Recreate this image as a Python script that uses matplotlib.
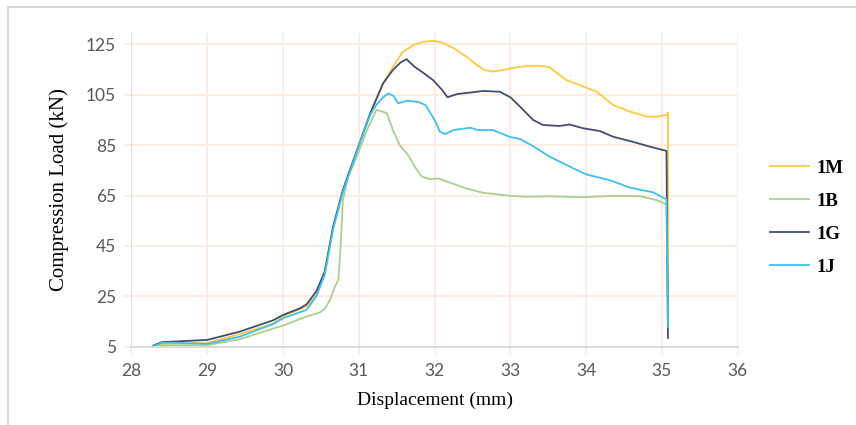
import matplotlib
matplotlib.use("Agg")
import matplotlib.pyplot as plt
from matplotlib.patches import Rectangle

# displacement (mm) / load (kN)
x_1m = [28.29, 28.4, 28.53, 29.0, 29.43, 29.87, 30.0, 30.31, 30.44, 30.55, 30.66, 30.79,
        30.93, 31.0, 31.15, 31.32, 31.45, 31.58, 31.72, 31.85, 31.98, 32.1, 32.25, 32.42,
        32.55, 32.66, 32.77, 32.9, 33.08, 33.25, 33.39, 33.52, 33.62, 33.74, 33.92, 34.14,
        34.25, 34.36, 34.58, 34.8, 34.93, 35.06, 35.08, 35.08]
y_1m = [5.4, 6.0, 6.3, 6.5, 10.0, 14.2, 17.0, 21.0, 25.5, 34.0, 52.0, 67.0,
        79.0, 85.0, 97.5, 109.5, 116.0, 122.0, 124.7, 126.0, 126.4, 125.7, 123.5, 120.1,
        117.0, 114.8, 114.2, 114.8, 115.9, 116.5, 116.5, 115.9, 113.5, 110.8, 108.8, 106.2,
        103.5, 100.9, 98.3, 96.3, 96.3, 97.0, 98.0, 15.0]

x_1b = [28.29, 28.53, 29.0, 29.43, 29.87, 30.0, 30.31, 30.48, 30.55, 30.62, 30.68, 30.73,
        30.76, 30.79, 30.86, 30.99, 31.1, 31.23, 31.29, 31.37, 31.45, 31.54, 31.65, 31.74,
        31.83, 31.94, 32.05, 32.2, 32.42, 32.64, 32.99, 33.2, 33.52, 33.96, 34.36, 34.72,
        34.93, 35.06, 35.08]
y_1b = [5.3, 5.6, 5.6, 8.0, 12.2, 13.4, 17.0, 18.5, 20.0, 23.5, 28.5, 31.5,
        44.7, 63.2, 72.5, 81.7, 90.5, 98.9, 98.6, 97.6, 91.0, 85.0, 81.1, 76.4,
        72.5, 71.5, 71.8, 70.1, 67.8, 66.1, 64.9, 64.5, 64.7, 64.3, 64.9, 64.7,
        63.2, 61.5, 13.0]

x_1g = [28.29, 28.4, 28.53, 29.0, 29.43, 29.87, 30.0, 30.22, 30.31, 30.44, 30.55, 30.66,
        30.79, 30.93, 31.0, 31.15, 31.32, 31.45, 31.55, 31.63, 31.74, 31.86, 31.98, 32.1,
        32.17, 32.3, 32.51, 32.64, 32.86, 33.0, 33.13, 33.3, 33.43, 33.65, 33.78, 33.96,
        34.18, 34.36, 34.62, 34.84, 35.06, 35.08]
y_1g = [5.5, 6.8, 7.0, 7.7, 11.0, 15.5, 17.6, 20.2, 21.8, 27.0, 34.8, 52.6,
        67.2, 79.1, 85.0, 97.6, 109.5, 114.8, 117.8, 119.1, 116.0, 113.5, 110.8, 106.9,
        104.0, 105.3, 106.0, 106.5, 106.2, 104.0, 100.2, 95.0, 93.0, 92.6, 93.2, 91.7,
        90.6, 88.3, 86.3, 84.4, 82.7, 8.5]

x_1j = [28.29, 28.4, 28.53, 29.0, 29.43, 29.87, 30.0, 30.31, 30.44, 30.55, 30.66, 30.79,
        30.93, 31.0, 31.15, 31.23, 31.32, 31.39, 31.46, 31.52, 31.63, 31.78, 31.88, 32.0,
        32.07, 32.14, 32.25, 32.47, 32.57, 32.77, 32.99, 33.13, 33.3, 33.52, 33.83, 34.0,
        34.27, 34.36, 34.58, 34.88, 35.06, 35.08]
y_1j = [5.3, 6.5, 6.6, 6.1, 9.0, 14.0, 16.3, 19.6, 25.0, 33.5, 51.5, 66.5,
        78.5, 85.0, 97.0, 100.9, 104.0, 105.5, 104.5, 101.6, 102.6, 102.2, 100.9, 95.0,
        90.3, 89.4, 91.0, 91.9, 91.0, 91.0, 88.3, 87.4, 84.6, 80.4, 75.8, 73.4,
        71.4, 70.6, 68.1, 66.3, 63.5, 12.9]

labels = ["1M", "1B", "1G", "1J"]
colors = ["#ffc83d", "#a9d08e", "#404e72", "#3fc0f0"]
x_ticks = [28, 29, 30, 31, 32, 33, 34, 35, 36]
y_ticks = [5, 25, 45, 65, 85, 105, 125]

fig = plt.figure(figsize=(8.56, 4.25), dpi=100)
ax = fig.add_axes([0.1536, 0.1842, 0.7082, 0.7393])

# outer chart border (only left/top visible in the reference)
fig.patches.append(Rectangle((8 / 856, -0.1), 1.2, 1 - 7 / 425 + 0.1,
                             transform=fig.transFigure, fill=False,
                             edgecolor="#d9d9d9", linewidth=1.5))

series = [(x_1m, y_1m), (x_1b, y_1b), (x_1g, y_1g), (x_1j, y_1j)]
for (xs, ys), lab, col in zip(series, labels, colors):
    ax.plot(xs, ys, color=col, linewidth=1.3, label=lab)

ax.set_xlim(28, 36)
ax.set_ylim(5, 129.7)
ax.set_xticks(x_ticks)
ax.set_yticks(y_ticks)
ax.grid(True, color="#fcebe0", linewidth=1.3)
ax.set_axisbelow(True)

for s in ["top", "right"]:
    ax.spines[s].set_visible(False)
ax.spines["left"].set_color("#e6e0dc")
ax.spines["bottom"].set_color("#d9d9d9")
ax.spines["bottom"].set_linewidth(1.3)
ax.tick_params(axis="both", colors="#fcebe0", length=5, width=1.2,
               labelcolor="#595959", labelsize=12.5)
for t in ax.get_xticklabels() + ax.get_yticklabels():
    t.set_fontfamily("Lato")
ax.tick_params(axis="x", pad=7)
ax.tick_params(axis="y", pad=6)

ax.set_xlabel("Displacement (mm)", fontfamily="Liberation Serif", fontsize=14, labelpad=9)
ax.set_ylabel("Compression Load (kN)", fontfamily="Liberation Serif", fontsize=15, labelpad=12)

fig.legend(loc="center left", bbox_to_anchor=(770 / 856, 0.488), frameon=False,
           prop={"family": "Liberation Serif", "weight": "bold", "size": 13.5},
           handlelength=2.1, handletextpad=0.4, labelspacing=0.85, borderpad=0,
           borderaxespad=0)

fig.savefig("out.png", dpi=100)
